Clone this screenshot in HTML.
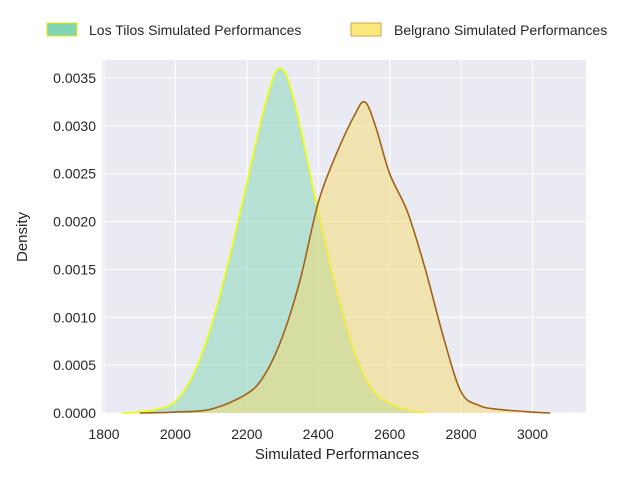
<!DOCTYPE html>
<html><head><meta charset="utf-8"><style>
body{margin:0;background:#fff;font-family:"Liberation Sans","DejaVu Sans",sans-serif}
</style></head><body>
<svg width="640" height="480" xmlns="http://www.w3.org/2000/svg" font-family="Liberation Sans, DejaVu Sans, sans-serif">
<rect width="640" height="480" fill="#fff"/>
<rect x="102" y="60" width="484" height="353" fill="#eaeaf2"/>
<g id="grid"></g>
<g id="series"></g>
<g id="axes"></g>
<g>
<rect x="47" y="23" width="30" height="13" fill="#7fd6b4" stroke="#e8f000"/>
<text x="89" y="35" font-size="14" fill="#262626">Los Tilos Simulated Performances</text>
<rect x="351" y="23" width="30" height="13" fill="#fde87c" stroke="#c8a850"/>
<text x="394" y="35" font-size="14" fill="#262626">Belgrano Simulated Performances</text>
</g>
<text x="337" y="459" font-size="15" fill="#262626" text-anchor="middle">Simulated Performances</text>
<text transform="translate(27,237) rotate(-90)" font-size="15" fill="#262626" text-anchor="middle">Density</text>
</svg>
<script>
const xTicks=[1800,2000,2200,2400,2600,2800,3000];
const yTicks=[0,0.0005,0.001,0.0015,0.002,0.0025,0.003,0.0035];
const yTickLabels=["0.0000","0.0005","0.0010","0.0015","0.0020","0.0025","0.0030","0.0035"];
const losTilosX=[1850,1900,1950,2000,2050,2100,2150,2200,2250,2290,2330,2400,2450,2500,2550,2600,2650,2700];
const losTilosY=[0,0.00001,0.00004,0.00012,0.0004,0.0009,0.0016,0.0024,0.0032,0.0036,0.0033,0.0021,0.0013,0.00065,0.00025,0.0001,0.00003,0];
const belgranoX=[1900,2000,2100,2200,2250,2300,2350,2400,2450,2500,2530,2560,2600,2650,2700,2750,2800,2850,2900,3000,3050];
const belgranoY=[0,0.00001,0.00004,0.0002,0.0004,0.0008,0.0014,0.0022,0.0027,0.0031,0.00325,0.003,0.0025,0.0021,0.0015,0.0008,0.00022,0.00008,0.00004,0.00001,0];
const sx=v=>104+(v-1800)*0.3571;
const sy=v=>413-v*95720;
const NS="http://www.w3.org/2000/svg";
function mk(t,a,p){const e=document.createElementNS(NS,t);for(const k in a)e.setAttribute(k,a[k]);p.appendChild(e);return e;}
const grid=document.getElementById('grid'),axes=document.getElementById('axes'),ser=document.getElementById('series');
xTicks.forEach(v=>{const l=mk('line',{x1:sx(v),x2:sx(v),y1:60,y2:413,stroke:'#fff','stroke-width':1},grid);


const t=mk('text',{x:sx(v),y:439,'font-size':14,fill:'#262626','text-anchor':'middle'},axes);t.textContent=v;

});
yTicks.forEach((v,i)=>{const l=mk('line',{x1:102,x2:586,y1:sy(v),y2:sy(v),stroke:'#fff','stroke-width':1},grid);


const t=mk('text',{x:96,y:sy(v)+5,'font-size':14,fill:'#262626','text-anchor':'end'},axes);t.textContent=yTickLabels[i];

});
function path(xs,ys){const P=xs.map((x,i)=>[sx(x),sy(ys[i])]);let d='M'+P[0][0]+','+P[0][1];
for(let i=0;i<P.length-1;i++){const p0=P[Math.max(i-1,0)],p1=P[i],p2=P[i+1],p3=P[Math.min(i+2,P.length-1)];
d+=' C'+(p1[0]+(p2[0]-p0[0])/6)+','+(p1[1]+(p2[1]-p0[1])/6)+' '+(p2[0]-(p3[0]-p1[0])/6)+','+(p2[1]-(p3[1]-p1[1])/6)+' '+p2[0]+','+p2[1];}
return {d,P};}
function draw(xs,ys,fill,stroke,name){const {d,P}=path(xs,ys);
const f=mk('path',{d:d+' L'+P[P.length-1][0]+','+sy(0)+' L'+P[0][0]+','+sy(0)+' Z',fill:fill,'fill-opacity':0.5,stroke:'none'},ser);


const l=mk('path',{d:d,fill:'none',stroke:stroke,'stroke-width':1.6},ser);

}
draw(losTilosX,losTilosY,'#7fd6b4','#eeff00','los-tilos');
draw(belgranoX,belgranoY,'#f5dc6e','#a0621a','belgrano');
</script>
</body></html>
